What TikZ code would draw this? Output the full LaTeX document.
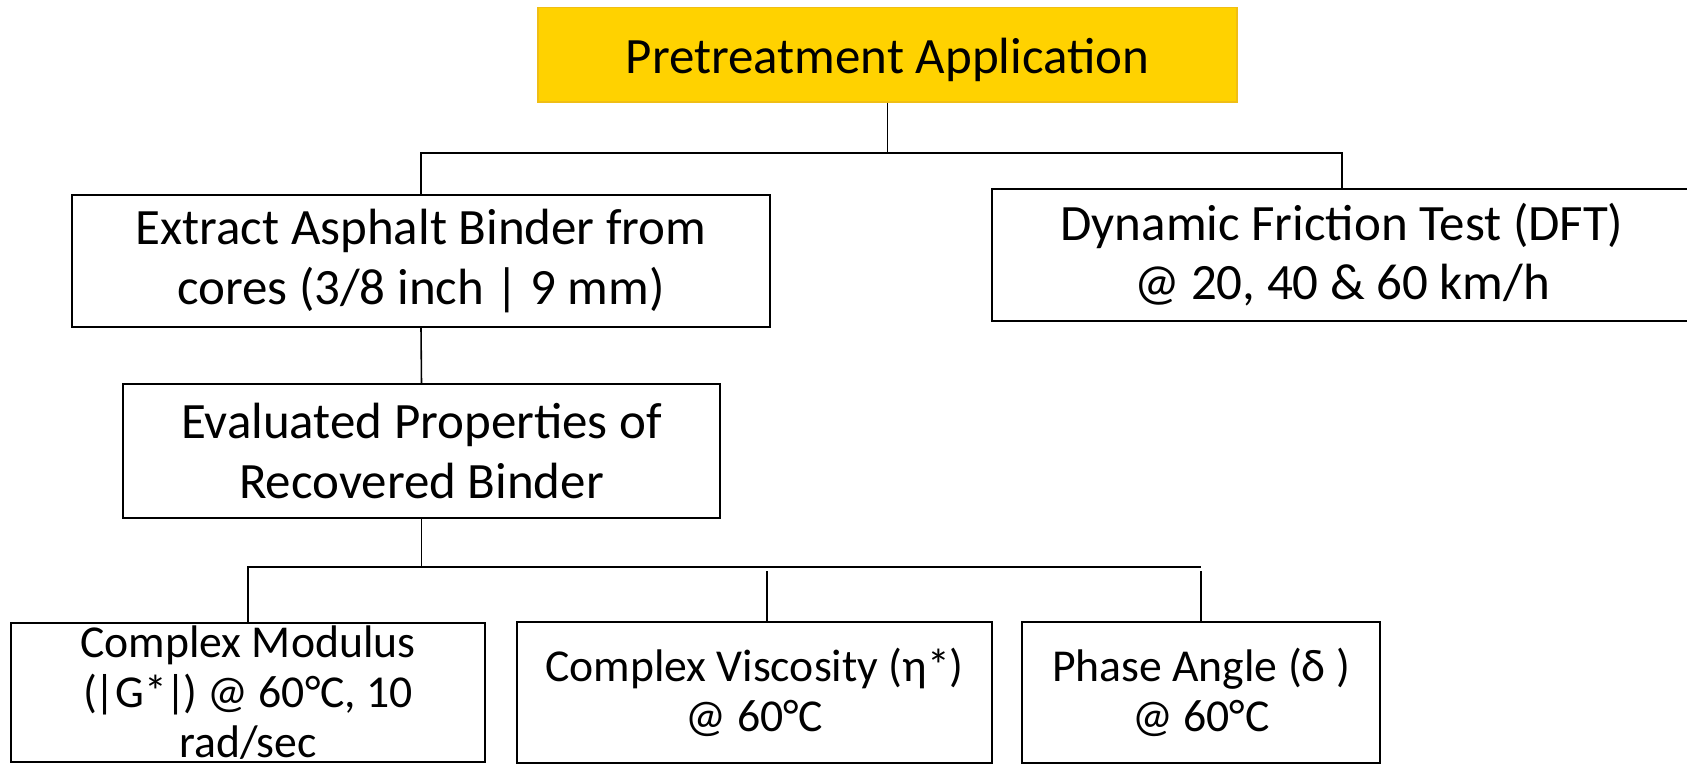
\documentclass[tikz,border=0pt]{standalone}
\usepackage{fontspec}
\setmainfont{Carlito}
\usetikzlibrary{positioning}
\definecolor{pretreatfill}{RGB}{255,210,0}
\definecolor{pretreatedge}{RGB}{240,190,20}
\tikzset{
  box/.style = {draw, line width=1.1pt, align=center, inner sep=0pt, font=\fontsize{29}{33.6}\selectfont},
  smallbox/.style = {box, font=\fontsize{26}{28.6}\selectfont},
  link/.style = {line width=0.9pt}
}

\begin{document}
\begin{tikzpicture}

  \useasboundingbox (0,0) rectangle (33.74,-15.28);

  %% Pretreatment evaluation tree

  % Top box
  \node[box, fill=pretreatfill, draw=pretreatedge, line width=0.6pt, minimum width=13.98cm, minimum height=1.89cm, text height=0.9cm, text depth=0.16cm] (pretreat) at (17.75,-1.095) {Pretreatment Application};

  % Second row
  \node[box, minimum width=13.96cm, minimum height=2.64cm] (extract) at (8.42,-5.22) {Extract Asphalt Binder from\\cores (3/8 inch | 9 mm)};
  \node[box, minimum width=14cm, minimum height=2.64cm] (dft) at (26.84,-5.10) {Dynamic Friction Test (DFT)\\@ 20, 40 \& 60 km/h};

  % Third row
  \node[box, minimum width=11.94cm, minimum height=2.68cm] (evaluated) at (8.43,-9.02) {Evaluated Properties of\\Recovered Binder};

  % Binder properties
  \node[smallbox, anchor=north, minimum width=9.48cm, inner ysep=1.5pt] (modulus) at (4.96,-12.44) {Complex Modulus\\(\kern-0.06em|G*\kern-0.04em|\kern-0.06em) @ 60°C, 10\\rad/sec};
  \node[smallbox, minimum width=9.5cm, minimum height=2.82cm] (viscosity) at (15.09,-13.85) {Complex Viscosity (η*)\\@ 60°C};
  \node[smallbox, minimum width=7.16cm, minimum height=2.82cm] (phase) at (24.02,-13.85) {Phase Angle (δ )\\@ 60°C};

  % Connectors
  \coordinate (busa) at (0,-3.06);
  \coordinate (busb) at (0,-11.34);
  \draw[link] (pretreat.south) -- (pretreat.south |- busa);
  \draw[link] (extract.north) |- (dft.north |- busa) -- (dft.north);
  \draw[link] (extract.south) -- (evaluated.north);
  \draw[link] (evaluated.south) -- (evaluated.south |- busb);
  \draw[link] (modulus.north) |- (phase.north |- busb);
  \draw[link, shorten >=0.09cm] ([xshift=0.25cm]viscosity.north) -- ([xshift=0.25cm]viscosity.north |- busb);
  \draw[link, shorten >=0.09cm] (phase.north) -- (phase.north |- busb);

\end{tikzpicture}
\end{document}
